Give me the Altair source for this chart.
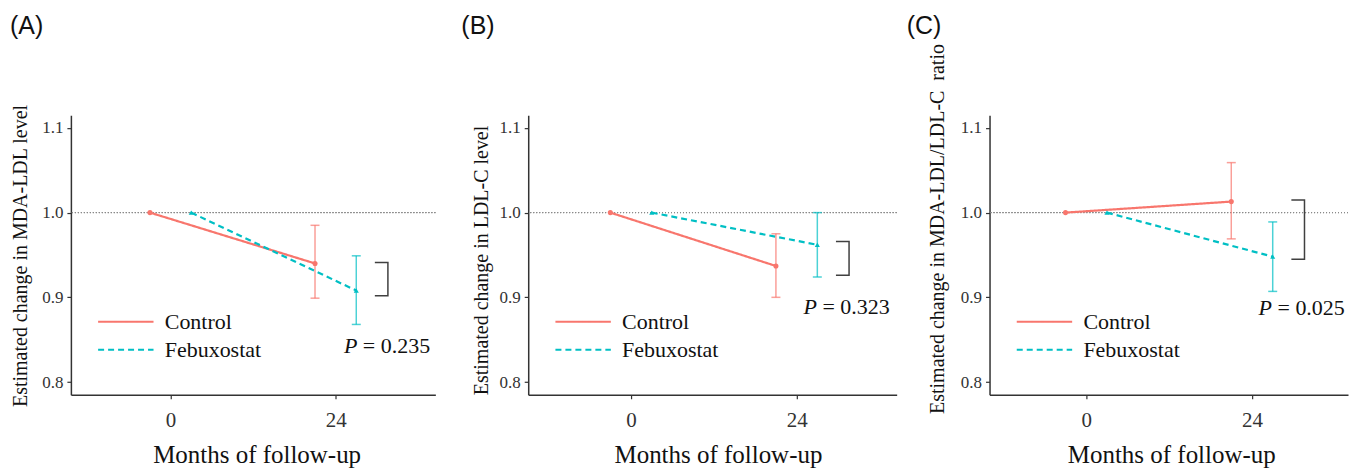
import altair as alt
import pandas as pd

# ---- data ----
months = [0, 24]
groups = ["Control", "Febuxostat"]

# Panel A: MDA-LDL
a_ctrl = [1.0, 0.940]
a_ctrl_lo = [None, 0.899]
a_ctrl_hi = [None, 0.985]
a_feb = [1.0, 0.908]
a_feb_lo = [None, 0.868]
a_feb_hi = [None, 0.949]
a_bracket = [0.941, 0.902]
a_p = "0.235"

# Panel B: LDL-C
b_ctrl = [1.0, 0.937]
b_ctrl_lo = [None, 0.900]
b_ctrl_hi = [None, 0.975]
b_feb = [1.0, 0.962]
b_feb_lo = [None, 0.924]
b_feb_hi = [None, 1.000]
b_bracket = [0.966, 0.926]
b_p = "0.323"

# Panel C: MDA-LDL/LDL-C ratio
c_ctrl = [1.0, 1.013]
c_ctrl_lo = [None, 0.969]
c_ctrl_hi = [None, 1.059]
c_feb = [1.0, 0.948]
c_feb_lo = [None, 0.907]
c_feb_hi = [None, 0.989]
c_bracket = [1.015, 0.945]
c_p = "0.025"

y_ticks = [0.8, 0.9, 1.0, 1.1]
x_title = "Months of follow-up"

# ---- styling / layout (not data) ----
DODGE = {"Control": -3.0, "Febuxostat": 3.0}
COLORS = ["#F8766D", "#00BFC4"]
SHAPES = ["circle", "triangle-up"]
SERIF = "Liberation Serif"
SANS = "Liberation Sans"
INK = "#333333"
Y_DOMAIN = [0.785, 1.115]
BRACKET_X = [29.7, 31.6]
HEIGHT = 280


def panel(letter, letter_dx, ytitle, ctrl, clo, chi, feb, flo, fhi, bracket, pval,
          p_pos, width, xdom, ytitle_x, ytitle_y, xtitle_x):
    rows = []
    for g, mean, lo, hi in [("Control", ctrl, clo, chi), ("Febuxostat", feb, flo, fhi)]:
        for m, v, l, h in zip(months, mean, lo, hi):
            rows.append({"group": g, "month": m, "x": m + DODGE[g], "y": v, "lo": l, "hi": h})
    df = pd.DataFrame(rows)
    df_err = df.dropna(subset=["lo", "hi"])

    br = pd.DataFrame({
        "x": [BRACKET_X[0], BRACKET_X[1], BRACKET_X[1], BRACKET_X[0]],
        "y": [bracket[0], bracket[0], bracket[1], bracket[1]],
        "o": [0, 1, 2, 3],
    })
    pdf = pd.DataFrame({"x": [p_pos[0]], "y": [p_pos[1]], "val": ["= " + pval]})
    ldf = pd.DataFrame({"t": [letter]})

    xs = alt.Scale(domain=xdom, nice=False, zero=False)
    ys = alt.Scale(domain=Y_DOMAIN, nice=False, zero=False)

    def X(field):
        return alt.X(field, scale=xs, title=x_title)

    def Y(field):
        return alt.Y(field, scale=ys, title=ytitle)

    legend = alt.Legend(
        title=None, orient="none", legendX=26, legendY=193,
        symbolType="stroke", symbolSize=3080, symbolStrokeWidth=2,
        symbolOpacity=1, clipHeight=28, rowPadding=0, padding=0,
        labelFont=SERIF, labelFontSize=22, labelFontWeight="normal", labelColor="#111111",
        labelOffset=10, labelLimit=400,
    )
    color = alt.Color("group:N", scale=alt.Scale(domain=groups, range=COLORS), legend=legend)
    dash = alt.StrokeDash("group:N", scale=alt.Scale(domain=groups, range=[[1, 0], [6, 4]]), legend=legend)

    x_axis = alt.Axis(
        values=months, grid=False,
        domainColor=INK, domainWidth=1.5, tickColor=INK, tickSize=4, tickWidth=1.2,
        labelFont=SERIF, labelFontSize=21, labelColor=INK, labelPadding=11,
        titleFont=SERIF, titleFontSize=25, titleFontWeight="normal", titleColor="#111111",
        titleX=xtitle_x, titleY=68, titleBaseline="alphabetic", titleAlign="center",
    )
    y_axis = alt.Axis(
        values=y_ticks, format=".1f", grid=False,
        domainColor=INK, domainWidth=1.5, tickColor=INK, tickSize=4, tickWidth=1.2,
        labelFont=SERIF, labelFontSize=17, labelColor=INK, labelPadding=4,
        titleFont=SERIF, titleFontSize=20, titleFontWeight="normal", titleColor="#111111",
        titleX=ytitle_x, titleY=ytitle_y, titleBaseline="alphabetic", titleAlign="center",
        titleAngle=270,
    )

    layers = []
    layers.append(alt.Chart(df).mark_rule(color="#8a8a8a", strokeDash=[1, 2], strokeWidth=1).encode(
        y=alt.datum(1.0, scale=ys)
    ))
    layers.append(alt.Chart(df).mark_line(strokeWidth=2.2).encode(
        x=alt.X("x:Q", scale=xs, axis=x_axis, title=x_title),
        y=alt.Y("y:Q", scale=ys, axis=y_axis, title=ytitle),
        color=color, strokeDash=dash, detail="group:N",
    ))
    for g, col, shp in zip(groups, COLORS, SHAPES):
        layers.append(alt.Chart(df_err).transform_filter(alt.datum.group == g).mark_errorbar(
            ticks=True, size=9, thickness=1.5, opacity=0.7, color=col
        ).encode(x=X("x:Q"), y=Y("lo:Q"), y2="hi:Q"))
        layers.append(alt.Chart(df).transform_filter(alt.datum.group == g).mark_point(
            filled=True, size=26, opacity=1, shape=shp, color=col
        ).encode(x=X("x:Q"), y=Y("y:Q")))
    layers.append(alt.Chart(br).mark_line(color="#404040", strokeWidth=1.5).encode(
        x=X("x:Q"), y=Y("y:Q"), order="o:Q",
    ))
    layers.append(alt.Chart(pdf).mark_text(
        text="P", font=SERIF, fontSize=22, fontStyle="italic", align="left",
        baseline="alphabetic", color="#111111",
    ).encode(x=X("x:Q"), y=Y("y:Q")))
    layers.append(alt.Chart(pdf).mark_text(
        font=SERIF, fontSize=22, align="left", baseline="alphabetic", dx=19, color="#111111",
    ).encode(x=X("x:Q"), y=Y("y:Q"), text="val:N"))
    layers.append(alt.Chart(ldf).mark_text(
        font=SANS, fontSize=25, align="left", baseline="alphabetic", color="#111111",
    ).encode(text="t:N", x=alt.value(letter_dx), y=alt.value(-81)))

    return alt.layer(*layers).properties(width=width, height=HEIGHT).resolve_scale(
        color="independent", strokeDash="independent"
    )


pA = panel("(A)", -61, "Estimated change in MDA-LDL level", a_ctrl, a_ctrl_lo, a_ctrl_hi,
           a_feb, a_feb_lo, a_feb_hi, a_bracket, a_p, (25.2, 0.834),
           365, [-14.5, 38.5], -44, 140.5, 186)
pB = panel("(B)", -67, "Estimated change in LDL-C level", b_ctrl, b_ctrl_lo, b_ctrl_hi,
           b_feb, b_feb_lo, b_feb_hi, b_bracket, b_p, (25.0, 0.880),
           369, [-14.9, 38.5], -41, 145, 190)
pC = panel("(C)", -83, "Estimated change in MDA-LDL/LDL-C\u00a0 ratio", c_ctrl, c_ctrl_lo, c_ctrl_hi,
           c_feb, c_feb_lo, c_feb_hi, c_bracket, c_p, (24.95, 0.879),
           359, [-14.0, 37.9], -46, 113.5, 182)

chart = alt.hconcat(pA, pB, pC, spacing=93, bounds="flush").resolve_scale(
    color="independent", strokeDash="independent", x="independent", y="independent"
).resolve_legend(color="independent", strokeDash="independent").properties(
    padding={"left": 10, "top": 14, "right": 0, "bottom": 0},
    background="white",
).configure_view(stroke=None).configure_legend(
    labelFont=SERIF, labelFontSize=22, labelFontWeight="normal", labelColor="#111111"
)

chart.save("out.html", embed_options={"renderer": "svg", "actions": False})
